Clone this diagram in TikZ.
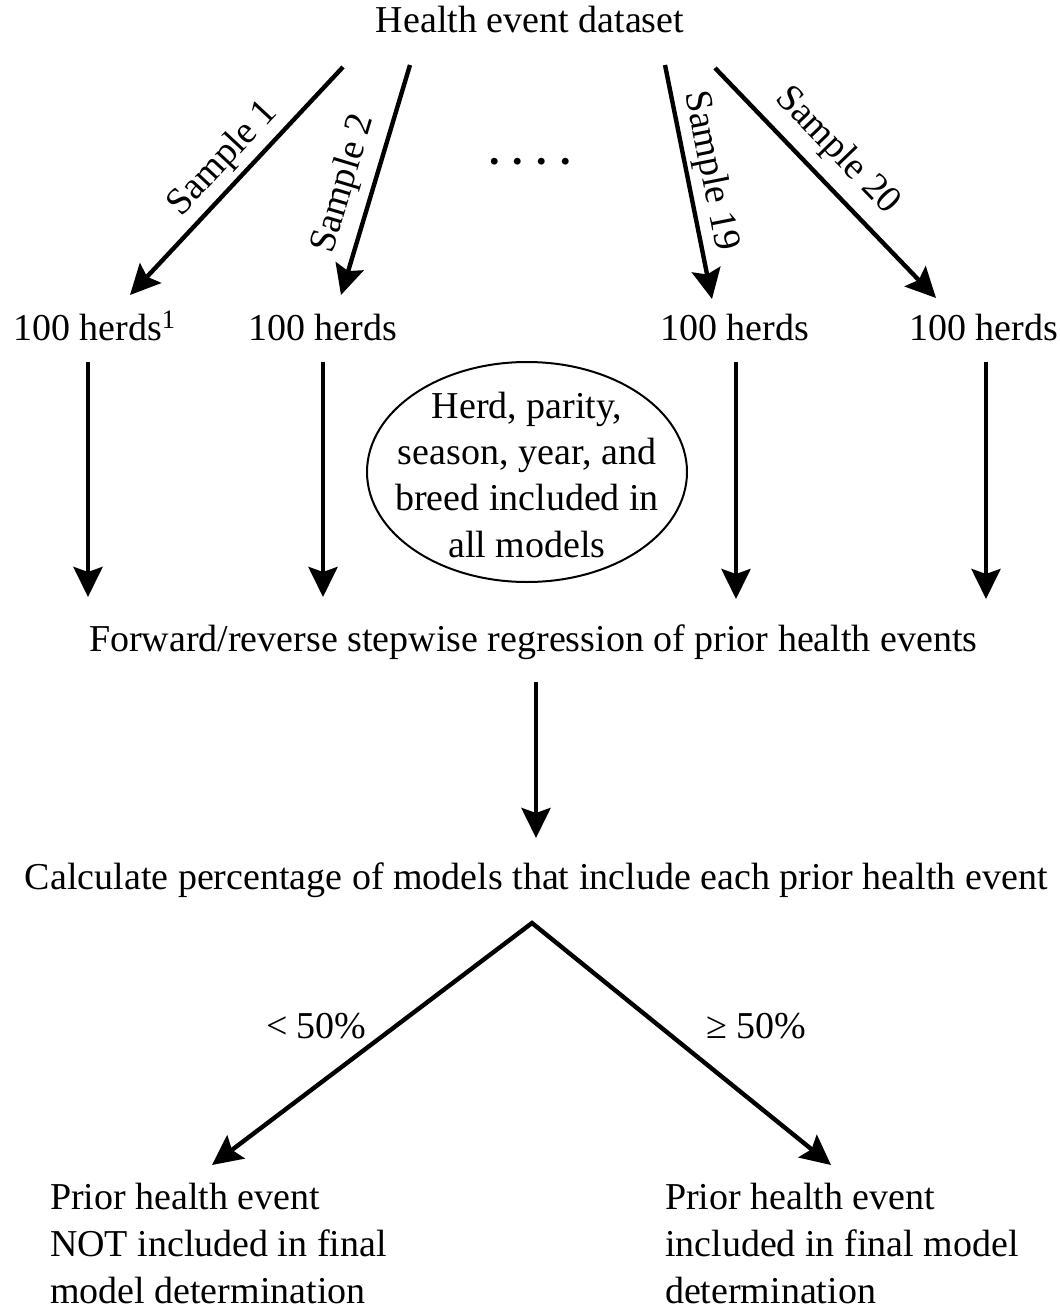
\documentclass[tikz,border=0pt]{standalone}
\usepackage{fontspec}
\setmainfont{Liberation Serif}
\usetikzlibrary{arrows.meta,shapes.geometric}
\begin{document}
\begin{tikzpicture}[x=0.5pt,y=-0.5pt,
  txt/.style={font=\fontsize{19}{23}\selectfont, inner sep=0pt, outer sep=0pt, text=black},
  arr/.style={line width=2.2pt, -{Stealth[length=15pt,width=14.5pt,inset=2.5pt]}},
  arrtwo/.style={line width=2.2pt, {Stealth[length=15pt,width=14.5pt,inset=2.5pt]}-{Stealth[length=15pt,width=14.5pt,inset=2.5pt]}},
]
\useasboundingbox (0,0) rectangle (1059,1310);
% title
\node[txt, anchor=base] (title) at (530,33) {Health event dataset};
% herds
\node[txt, anchor=base west] (h1) at (13,341) {100 herds\textsuperscript{1}};
\node[txt, anchor=base west] (h2) at (248,341) {100 herds};
\node[txt, anchor=base west] (h19) at (660,341) {100 herds};
\node[txt, anchor=base west] (h20) at (909,341) {100 herds};
% sample arrows
\coordinate (s1a) at (343,67);  \coordinate (s1b) at (130,295);
\coordinate (s2a) at (410,65);  \coordinate (s2b) at (341,295);
\coordinate (s19a) at (665,65); \coordinate (s19b) at (712,299);
\coordinate (s20a) at (715,68); \coordinate (s20b) at (936,298);
\draw[arr] (s1a) -- (s1b);
\draw[arr] (s2a) -- (s2b);
\draw[arr] (s19a) -- (s19b);
\draw[arr] (s20a) -- (s20b);
\node[txt, rotate=47] (l1) at (223,159) {Sample 1};
\node[txt, rotate=73.3] (l2) at (344,184) {Sample 2};
\node[txt, rotate=-78.7] (l19) at (710,171) {Sample 19};
\node[txt, rotate=-46] (l20) at (837,151) {Sample 20};
% dots
\node[txt, anchor=base, font=\fontsize{21}{23}\selectfont\bfseries] (dots) at (530,165) {.\hspace{6.6pt}.\hspace{6.6pt}.\hspace{6.6pt}.};
% ellipse
\node[draw, ellipse, line width=1pt, minimum width=160pt, minimum height=110pt, inner sep=0pt] (ell) at (527,472) {};
\node[txt, anchor=base] (e1) at (527,418) {Herd, parity,};
\node[txt, anchor=base] (e2) at (527,464) {season, year, and};
\node[txt, anchor=base] (e3) at (527,510) {breed included in};
\node[txt, anchor=base] (e4) at (527,557) {all models};
% vertical arrows
\coordinate (v1a) at (88,362);  \coordinate (v1b) at (88,597);
\coordinate (v2a) at (323,362); \coordinate (v2b) at (323,597);
\coordinate (v3a) at (736,362); \coordinate (v3b) at (736,599);
\coordinate (v4a) at (986,362); \coordinate (v4b) at (986,599);
\draw[arr] (v1a) -- (v1b);
\draw[arr] (v2a) -- (v2b);
\draw[arr] (v3a) -- (v3b);
\draw[arr] (v4a) -- (v4b);
% forward
\node[txt, anchor=base west] (fw) at (89,651) {Forward/reverse stepwise regression of prior health events};
\coordinate (ma) at (536,682); \coordinate (mb) at (536,838);
\draw[arr] (ma) -- (mb);
\node[txt, anchor=base west] (calc) at (25,889) {Calculate percentage of models that include each prior health event};
% split
\coordinate (apex) at (532,923);
\coordinate (lt) at (212,1165);
\coordinate (rt) at (831,1165);
\draw[arrtwo, line join=miter] (lt) -- (apex) -- (rt);
\node[txt, anchor=base west] (lo) at (266,1038) {< 50\%};
\node[txt, anchor=base west] (hi) at (706,1038) {≥ 50\%};
% outcomes
\node[txt, anchor=base west] (b1) at (50,1209) {Prior health event};
\node[txt, anchor=base west] (b2) at (50,1256) {NOT included in final};
\node[txt, anchor=base west] (b3) at (50,1303) {model determination};
\node[txt, anchor=base west] (c1) at (665,1209) {Prior health event};
\node[txt, anchor=base west] (c2) at (665,1256) {included in final model};
\node[txt, anchor=base west] (c3) at (665,1303) {determination};
\end{tikzpicture}
\end{document}
